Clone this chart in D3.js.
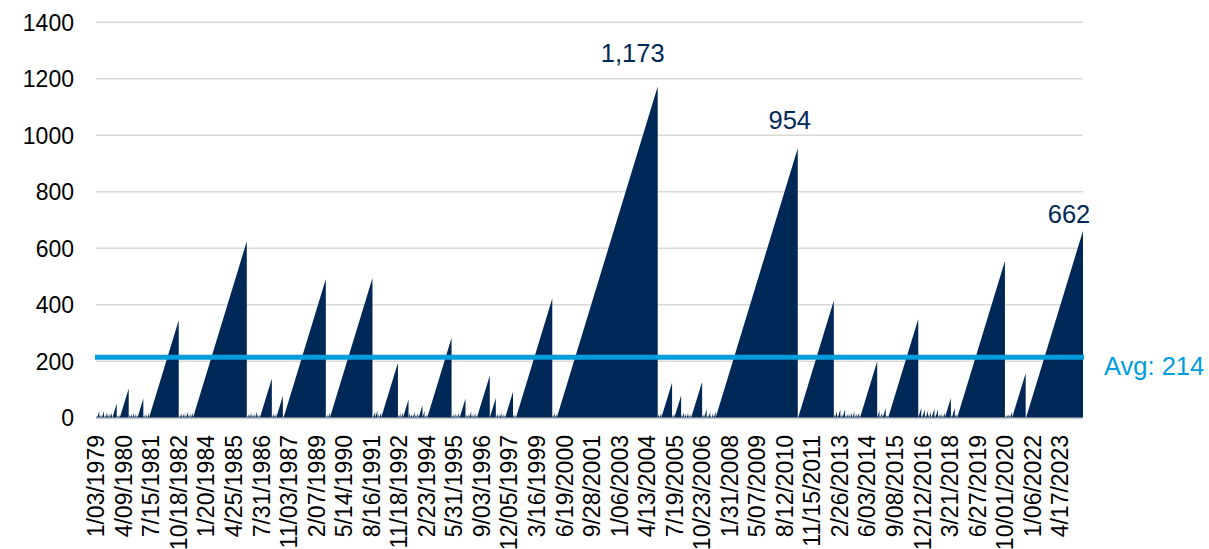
<!DOCTYPE html>
<html>
<head>
<meta charset="utf-8">
<script src="https://cdn.jsdelivr.net/npm/d3@7"></script>
<style>
  html, body { margin: 0; padding: 0; background: #fff; }
  svg text { font-family: Arial, "Liberation Sans", sans-serif; }
</style>
</head>
<body>
<script>
// trading days since the last reset, one entry per cycle (the peak reached before dropping to 0)
var cyclePeaks = [
  6, 8, 24, 9, 12, 10, 24, 7, 11, 20, 9, 14, 14, 18, 4, 51,
  6, 10, 8, 11, 104, 12, 9, 15, 6, 18, 8, 14, 10, 10, 68,
  9, 14, 6, 12, 8, 17, 345,
  10, 12, 16, 8, 18, 9, 14, 22, 11, 15, 13, 18, 625,
  8, 14, 11, 19, 7, 12, 16, 9, 21, 13, 10, 12, 139,
  9, 16, 11, 15, 77,
  8, 491,
  6, 13, 9, 19, 495,
  11, 21, 26,
  14, 9, 20, 195,
  12, 18, 9, 19, 65,
  18, 8, 14, 10, 21, 12, 6, 17, 12, 44,
  24, 8, 13, 10, 283,
  9, 14, 7, 16, 11, 8, 19, 10, 68,
  12, 8, 15, 10, 22, 9, 14, 7, 18, 11, 6, 150,
  70,
  10, 16, 8, 12, 20, 9, 14, 11, 8, 92,
  13, 9, 12, 422,
  11, 18, 8, 15, 1173,
  14, 9, 19, 125,
  10, 16, 79,
  12, 20, 9, 15, 8, 18, 11, 14, 9, 128,
  9, 14, 30, 8, 12, 21, 10, 6, 16, 9, 22, 954,
  4, 415,
  13, 24, 9, 30, 14, 11, 30, 8, 12, 16, 14, 10, 19, 7, 22, 11, 15, 9, 18, 12, 200,
  26, 8, 18, 12, 35, 10, 9, 9, 350,
  35, 12, 30, 9, 26, 14, 21, 8, 33, 11, 30, 10, 14, 16, 9, 12, 19, 70,
  11, 35, 13, 14, 555,
  6, 12, 9, 14, 8, 12, 22, 158,
  4, 662
];

var dateLabels = [
  "1/03/1979", "4/09/1980", "7/15/1981", "10/18/1982", "1/20/1984", "4/25/1985",
  "7/31/1986", "11/03/1987", "2/07/1989", "5/14/1990", "8/16/1991", "11/18/1992",
  "2/23/1994", "5/31/1995", "9/03/1996", "12/05/1997", "3/16/1999", "6/19/2000",
  "9/28/2001", "1/06/2003", "4/13/2004", "7/19/2005", "10/23/2006", "1/31/2008",
  "5/07/2009", "8/12/2010", "11/15/2011", "2/26/2013", "6/03/2014", "9/08/2015",
  "12/12/2016", "3/21/2018", "6/27/2019", "10/01/2020", "1/06/2022", "4/17/2023"
];
var labelEvery = 320;   // trading days between two date labels

var yTicks = [0, 200, 400, 600, 800, 1000, 1200, 1400];
var avgValue = 214;
var calloutPeaks = [1173, 954, 662];

var W = 1209, H = 549;
var navy = "#002856", blue = "#009ddc";

// build the sawtooth: climb to each peak, then drop back to 0
var points = [{ day: 0, v: 0 }];
var peakAt = {};
var day = 0;
cyclePeaks.forEach(function(p) {
    day += p;
    points.push({ day: day, v: p });
    points.push({ day: day, v: 0 });
    peakAt[p] = day;
});
var totalDays = day;

var svg = d3.select("body").append("svg")
    .attr("width", W)
    .attr("height", H);

var x = d3.scaleLinear().domain([0, totalDays]).range([96, 1083]);
var y = d3.scaleLinear().domain([0, 1400]).range([417.8, 22.3]);

// gridlines
svg.append("g")
    .selectAll("line")
    .data(yTicks.filter(function(d) { return d > 0; }))
    .enter().append("line")
    .attr("x1", x.range()[0])
    .attr("x2", x.range()[1])
    .attr("y1", function(d) { return y(d); })
    .attr("y2", function(d) { return y(d); })
    .attr("stroke", "#d9d9d9")
    .attr("stroke-width", 1.5);

// y labels
svg.append("g")
    .selectAll("text")
    .data(yTicks)
    .enter().append("text")
    .attr("x", 74)
    .attr("y", function(d) { return y(d); })
    .attr("dy", "0.36em")
    .attr("text-anchor", "end")
    .attr("font-size", 23)
    .attr("fill", "#000")
    .text(function(d) { return d; });

var area = d3.area()
    .x(function(d) { return x(d.day); })
    .y0(y(0))
    .y1(function(d) { return y(d.v); });

svg.append("path")
    .datum(points)
    .attr("d", area)
    .attr("fill", navy);

// baseline
svg.append("line")
    .attr("x1", x.range()[0])
    .attr("x2", x.range()[1])
    .attr("y1", y(0) + 0.8)
    .attr("y2", y(0) + 0.8)
    .attr("stroke", "#d0d0d0")
    .attr("stroke-width", 1.5);

// date labels, rotated
svg.append("g")
    .selectAll("text")
    .data(dateLabels)
    .enter().append("text")
    .attr("transform", function(d, i) {
        return "translate(" + x(i * labelEvery) + ",435) rotate(-90)";
    })
    .attr("dy", "0.36em")
    .attr("text-anchor", "end")
    .attr("font-size", 23)
    .attr("fill", "#000")
    .text(function(d) { return d; });

// average line + label
svg.append("line")
    .attr("x1", 95)
    .attr("x2", 1084)
    .attr("y1", y(avgValue))
    .attr("y2", y(avgValue))
    .attr("stroke", blue)
    .attr("stroke-width", 5);

svg.append("text")
    .attr("x", 1104)
    .attr("y", y(avgValue) + 17.5)
    .attr("font-size", 25.5)
    .attr("fill", blue)
    .text("Avg: " + avgValue);

// peak callouts (hand nudged like the original text boxes)
var nudge = { 1173: [-25, -24], 954: [-8, -19], 662: [-14, -8] };
svg.append("g")
    .selectAll("text")
    .data(calloutPeaks)
    .enter().append("text")
    .attr("x", function(d) { return x(peakAt[d]) + nudge[d][0]; })
    .attr("y", function(d) { return y(d) + nudge[d][1]; })
    .attr("text-anchor", "middle")
    .attr("font-size", 25.5)
    .attr("fill", navy)
    .text(function(d) { return d3.format(",")(d); });
</script>
</body>
</html>
